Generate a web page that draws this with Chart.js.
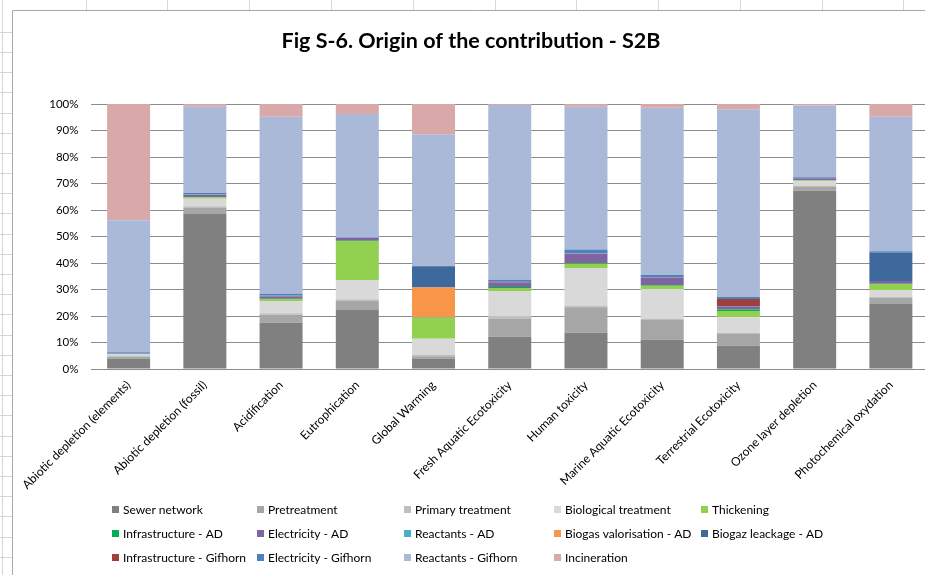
<!DOCTYPE html>
<html>
<head>
<meta charset="utf-8">
<script src="https://cdn.jsdelivr.net/npm/chart.js@4/dist/chart.umd.min.js"></script>
<style>
  html, body { margin: 0; padding: 0; overflow: hidden; background: #fff; }
  #wrap { position: absolute; left: 0; top: 0; width: 945px; height: 575px; }
</style>
</head>
<body>
<div id="wrap"><canvas id="contribChart" width="945" height="575"></canvas></div>
<script>
// impact categories
const categories = [
  'Abiotic depletion (elements)',
  'Abiotic depletion (fossil)',
  'Acidification',
  'Eutrophication',
  'Global Warming',
  'Fresh Aquatic Ecotoxicity',
  'Human toxicity',
  'Marine Aquatic Ecotoxicity',
  'Terrestrial Ecotoxicity',
  'Ozone layer depletion',
  'Photochemical oxydation'
];

// share of each process, in %
const sewerNetwork      = [4.0, 58.5, 17.5, 22.3, 4.0, 12.2, 13.7, 11.0, 8.8, 67.3, 24.5];
const pretreatment      = [0.6, 2.3, 3.0, 3.5, 0.8, 6.9, 9.6, 7.5, 4.4, 1.4, 2.3];
const primaryTreatment  = [0.5, 0.6, 0.5, 0.5, 0.5, 0.6, 0.6, 0.6, 0.6, 0.5, 0.5];
const biologicalTreat   = [0.4, 2.8, 4.7, 7.3, 6.1, 9.7, 14.2, 11.1, 5.7, 1.7, 2.5];
const thickening        = [0.1, 0.6, 0.7, 14.7, 7.8, 1.2, 1.6, 1.2, 2.4, 0.3, 2.3];
const infraAD           = [0.05, 0.1, 0.1, 0.1, 0.1, 0.3, 0.3, 0.3, 0.6, 0.05, 0.1];
const electricityAD     = [0.1, 0.9, 1.0, 1.1, 0.1, 1.8, 3.5, 2.8, 1.2, 0.7, 1.0];
const reactantsAD       = [0.1, 0.1, 0.1, 0.1, 0.05, 0.1, 0.1, 0.1, 0.1, 0.1, 0.05];
const biogasValor       = [0, 0, 0, 0, 11.3, 0, 0, 0, 0, 0, 0];
const biogazLeak        = [0, 0, 0, 0, 8.0, 0, 0, 0, 0, 0, 10.6];
const infraGifhorn      = [0.1, 0.1, 0.1, 0.05, 0.05, 0.1, 0.1, 0.1, 2.6, 0.05, 0.05];
const electricityGif    = [0.4, 0.4, 0.7, 0.15, 0.1, 0.8, 1.4, 0.8, 0.8, 0.3, 0.5];
const reactantsGifhorn  = [49.75, 32.6, 66.8, 46.4, 49.7, 65.9, 53.9, 63.1, 70.8, 27.0, 50.8];
const incineration      = [43.9, 1.0, 4.8, 3.8, 11.4, 0.4, 1.0, 1.4, 2.0, 0.6, 4.8];

const yTicks = [0, 10, 20, 30, 40, 50, 60, 70, 80, 90, 100];

const series = [
  ['Sewer network', sewerNetwork, '#808080'],
  ['Pretreatment', pretreatment, '#a6a6a6'],
  ['Primary treatment', primaryTreatment, '#bfbfbf'],
  ['Biological treatment', biologicalTreat, '#d9d9d9'],
  ['Thickening', thickening, '#92d050'],
  ['Infrastructure - AD', infraAD, '#00b050'],
  ['Electricity - AD', electricityAD, '#8064a2'],
  ['Reactants - AD', reactantsAD, '#4bacc6'],
  ['Biogas valorisation - AD', biogasValor, '#f79646'],
  ['Biogaz leackage - AD', biogazLeak, '#3e699c'],
  ['Infrastructure - Gifhorn', infraGifhorn, '#9e413e'],
  ['Electricity - Gifhorn', electricityGif, '#4f81bd'],
  ['Reactants - Gifhorn', reactantsGifhorn, '#aab9d7'],
  ['Incineration', incineration, '#d9a9a9']
];

const FONT = 'Lato, "Liberation Sans", sans-serif';

// worksheet cells behind the chart object, plus the chart frame
const sheetBackground = {
  id: 'sheetBackground',
  beforeDraw(chart) {
    const c = chart.ctx;
    c.save();
    c.fillStyle = '#fff';
    c.fillRect(0, 0, chart.width, chart.height);
    c.strokeStyle = '#d6d6d6';
    c.lineWidth = 1;
    c.beginPath();
    for (let x = 85.5; x < chart.width; x += 81.8) {
      c.moveTo(Math.round(x) + 0.5, 0);
      c.lineTo(Math.round(x) + 0.5, 10);
    }
    for (let y = 31.7; y < chart.height; y += 20.2) {
      c.moveTo(0, Math.round(y) + 0.5);
      c.lineTo(12, Math.round(y) + 0.5);
    }
    c.moveTo(2.5, 0);
    c.lineTo(2.5, chart.height);
    c.stroke();
    c.strokeStyle = '#a8a8a8';
    c.beginPath();
    c.moveTo(12.5, chart.height);
    c.lineTo(12.5, 10.5);
    c.lineTo(chart.width, 10.5);
    c.stroke();
    c.restore();
  }
};

// title and the fixed-column legend
const titleAndLegend = {
  id: 'titleAndLegend',
  afterDraw(chart) {
    const c = chart.ctx;
    c.save();
    c.fillStyle = '#000';
    c.font = 'bold 21.5px ' + FONT;
    c.textAlign = 'center';
    c.textBaseline = 'alphabetic';
    c.fillText('Fig S-6. Origin of the contribution - S2B', 471, 48);

    const colX = [112, 257, 404, 554, 701];
    const rowY = [510, 534, 558];
    c.font = '12px ' + FONT;
    c.textAlign = 'left';
    c.textBaseline = 'middle';
    chart.data.datasets.forEach((ds, i) => {
      const x = colX[i % 5];
      const y = rowY[Math.floor(i / 5)];
      c.fillStyle = ds.backgroundColor;
      c.fillRect(x, y - 4, 7, 7);
      c.fillStyle = '#000';
      c.fillText(ds.label, x + 11, y);
    });
    c.restore();
  }
};

const ctx = document.getElementById('contribChart').getContext('2d');
const contribChart = new Chart(ctx, {
  type: 'bar',
  data: {
    labels: categories,
    datasets: series.map(([label, data, color]) => ({
      label: label,
      data: data,
      backgroundColor: color,
      borderWidth: 0,
      barPercentage: 0.564,
      categoryPercentage: 1
    }))
  },
  options: {
    responsive: false,
    animation: false,
    layout: { padding: { left: 0, right: 16, top: 104, bottom: 0 } },
    plugins: {
      legend: { display: false },
      title: { display: false },
      tooltip: { enabled: false }
    },
    scales: {
      x: {
        stacked: true,
        grid: { display: false },
        border: { display: false },
        ticks: {
          autoSkip: false,
          minRotation: 45,
          maxRotation: 45,
          padding: 1,
          color: '#000',
          font: { family: FONT, size: 12 }
        },
        afterFit(scale) {
          scale.height = 206;
          scale.paddingLeft = 0;
          scale.paddingRight = 0;
        }
      },
      y: {
        stacked: true,
        min: 0,
        max: 100,
        afterBuildTicks(scale) {
          scale.ticks = yTicks.map(v => ({ value: v }));
        },
        grid: { color: '#8c8c8c', lineWidth: 1, drawTicks: false },
        border: { display: false },
        ticks: {
          padding: 12,
          color: '#000',
          font: { family: FONT, size: 11.5 },
          callback: v => v + '%'
        },
        afterFit(scale) {
          scale.width = 90.5;
        }
      }
    }
  },
  plugins: [sheetBackground, titleAndLegend]
});
</script>
</body>
</html>
